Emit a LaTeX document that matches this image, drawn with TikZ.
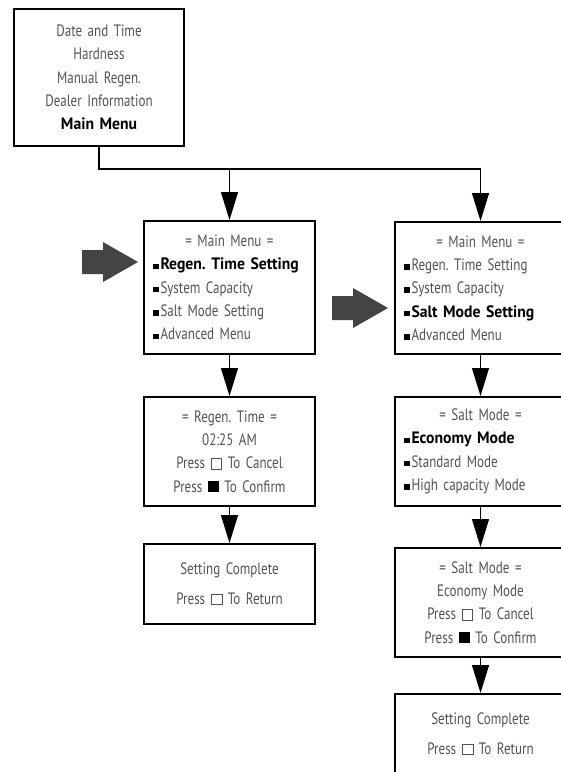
\documentclass[tikz,border=0pt]{standalone}
\usepackage{fontspec}
\setmainfont{PT Sans}[FakeStretch=0.79,WordSpace=0.75,BoldFeatures={FakeStretch=0.95}]
\usetikzlibrary{arrows.meta}

\definecolor{menugray}{RGB}{82,82,82}
\definecolor{pointergray}{RGB}{68,68,68}

% little squares used in the menu texts
\newcommand{\sqbullet}{{\color{black}\raisebox{0.8pt}{\rule{6pt}{5.5pt}}}\kern1.5pt}
\newcommand{\keyopen}{{\setlength{\fboxsep}{0pt}\setlength{\fboxrule}{0.8pt}\fbox{\rule{0pt}{10pt}\kern10pt}}}
\newcommand{\keyfull}{{\color{black}\rule{11pt}{11pt}}}
\newcommand{\hdr}[1]{\makebox[\hsize][c]{#1}}
\newcommand{\hi}[1]{\textbf{\color{black}#1}}

\begin{document}
\frenchspacing
\begin{tikzpicture}[
    x=1pt,y=-1pt,
    >={Triangle[length=28pt,width=17pt]},
    line join=miter,
    screen/.style={draw=black,line width=2pt,inner sep=0pt,
      text width=153pt,text=menugray,
      font=\fontsize{16.5}{23.3}\selectfont\frenchspacing},
    link/.style={->,line width=1.2pt},
]
\path[use as bounding box,clip] (0,0) rectangle (561,772);

% screens, left column
\node[screen,align=center,minimum width=170pt,minimum height=137pt]
  (home) at (99,77.5)
  {Date and Time\\Hardness\\Manual Regen.\\Dealer Information\\\hi{Main Menu}};
\node[screen,align=left,minimum width=171pt,minimum height=133pt]
  (lmain) at (229.5,287.5)
  {\hdr{= Main Menu =}\\\sqbullet\hi{Regen. Time Setting}\\\sqbullet System Capacity\\
   \sqbullet Salt Mode Setting\\\sqbullet Advanced Menu};
\node[screen,align=center,minimum width=171pt,minimum height=109pt]
  (regen) at (229.5,451.5)
  {= Regen. Time =\\02:25 AM\\Press \keyopen{} To Cancel\\Press \keyfull{} To Confirm};
\node[screen,align=center,minimum width=171pt,minimum height=80pt]
  (ldone) at (229.5,584)
  {Setting Complete\\[6.7pt]Press \keyopen{} To Return};

% screens, right column
\node[screen,align=left,minimum width=171pt,minimum height=132pt]
  (rmain) at (480.5,288)
  {\hdr{= Main Menu =}\\\sqbullet Regen. Time Setting\\\sqbullet System Capacity\\
   \sqbullet\hi{Salt Mode Setting}\\\sqbullet Advanced Menu};
\node[screen,align=left,minimum width=171pt,minimum height=109pt]
  (rsalt) at (480.5,451.5)
  {\hdr{= Salt Mode =}\\\sqbullet\hi{Economy Mode}\\\sqbullet Standard Mode\\
   \sqbullet High capacity Mode};
\node[screen,align=center,minimum width=171pt,minimum height=109pt]
  (rconf) at (480.5,602.5)
  {= Salt Mode =\\Economy Mode\\Press \keyopen{} To Cancel\\Press \keyfull{} To Confirm};
\node[screen,align=center,minimum width=171pt,minimum height=80pt]
  (rdone) at (480.5,734)
  {Setting Complete\\[6.7pt]Press \keyopen{} To Return};

% connectors
\coordinate (bend) at (99,169);
\draw[link] (home.south) -- (bend) -| (rmain.north);
\draw[link] (lmain.north |- bend) -- (lmain.north);
\draw[link] (lmain.south) -- (regen.north);
\draw[link] (regen.south) -- (ldone.north);
\draw[link] (rmain.south) -- (rsalt.north);
\draw[link] (rsalt.south) -- (rconf.north);
\draw[link] (rconf.south) -- (rdone.north);

% big pointers
\foreach \px/\py in {82/262, 332/308}
  \fill[pointergray] (\px,\py-12) -- ++(21,0) -- ++(0,-8) -- (\px+56,\py)
    -- (\px+21,\py+20) -- ++(0,-8) -- (\px,\py+12) -- cycle;
\end{tikzpicture}
\end{document}
